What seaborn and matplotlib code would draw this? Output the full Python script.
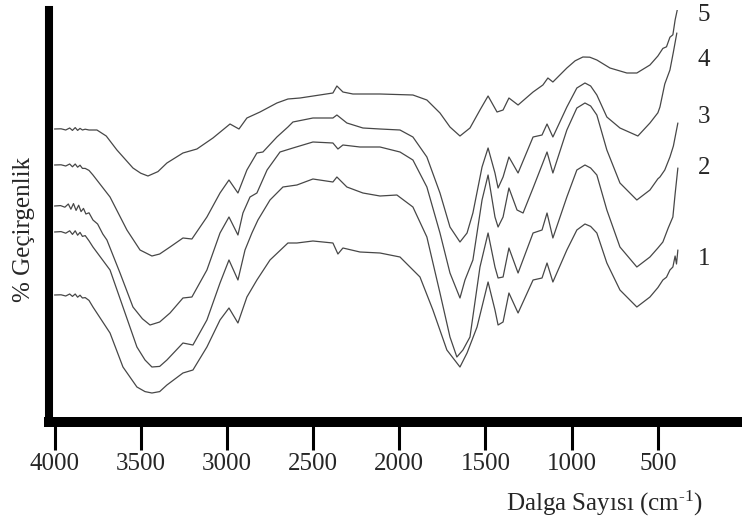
import matplotlib
matplotlib.use("Agg")
import matplotlib.pyplot as plt
import pandas as pd
import seaborn as sns

# FTIR spectra: wavenumber (cm-1) and relative transmittance for samples 1-5
wn_1 = [4000, 3962, 3935, 3912, 3896, 3880, 3866, 3852, 3838, 3822, 3800, 3777, 3678, 3603, 3522,
        3475, 3435, 3390, 3348, 3255, 3197, 3116, 3040, 2988, 2936, 2884, 2826, 2750, 2646, 2594,
        2501, 2385, 2356, 2327, 2228, 2112, 1996, 1880, 1805, 1724, 1648, 1607, 1549, 1485, 1445,
        1427, 1398, 1364, 1311, 1224, 1172, 1143, 1109, 1028, 970, 923, 890, 854, 796, 720, 622, 546,
        500, 471, 450, 430, 413, 400, 392, 384]
t_1 = [31.75, 31.8, 31.5, 32.0, 31.4, 32.0, 31.2, 31.7, 31.0, 31.1, 30.4, 28.75, 22.25, 13.75, 8.75,
       7.6, 7.25, 7.6, 9.25, 12.25, 13.0, 18.75, 25.5, 28.5, 24.75, 31.25, 35.5, 40.5, 44.75, 44.75,
       45.25, 44.75, 42.0, 43.5, 42.5, 42.25, 41.25, 36.25, 28.0, 18.0, 13.75, 17.25, 23.75, 35.0, 28.0,
       24.25, 25.0, 32.25, 27.25, 35.5, 36.0, 39.75, 35.0, 43.0, 48.0, 49.5, 48.9, 47.25, 39.75, 33.0,
       28.75, 31.25, 33.6, 35.5, 36.2, 38.0, 38.75, 41.5, 39.5, 43.0]

wn_2 = [4000, 3962, 3935, 3912, 3896, 3880, 3866, 3852, 3838, 3822, 3800, 3777, 3678, 3603, 3522,
        3475, 3435, 3390, 3348, 3255, 3197, 3116, 3040, 2988, 2936, 2895, 2855, 2820, 2750, 2675,
        2594, 2501, 2385, 2362, 2304, 2211, 2112, 2014, 1921, 1840, 1764, 1706, 1666, 1631, 1590,
        1532, 1485, 1445, 1427, 1398, 1364, 1311, 1224, 1172, 1143, 1109, 1028, 970, 923, 890, 854,
        796, 720, 622, 546, 500, 471, 440, 413, 400, 384]
t_2 = [47.5, 47.6, 47.2, 47.8, 46.9, 47.8, 46.7, 47.4, 46.4, 46.6, 45.3, 43.75, 38.0, 28.75, 18.75,
       15.5, 13.75, 13.9, 15.5, 19.75, 19.25, 25.5, 34.75, 40.5, 35.5, 43.0, 47.25, 50.5, 55.5, 58.75,
       59.25, 60.75, 60.0, 61.25, 58.75, 57.25, 56.5, 56.75, 53.75, 46.25, 32.25, 21.25, 16.25, 18.0,
       21.25, 38.75, 47.25, 38.75, 36.0, 36.25, 43.5, 37.25, 47.25, 48.0, 52.25, 46.0, 56.25, 63.0,
       64.25, 63.5, 61.75, 53.0, 43.75, 38.75, 41.25, 43.5, 45.0, 48.5, 51.25, 57.0, 63.5]

wn_3 = [4000, 3965, 3940, 3920, 3905, 3890, 3875, 3860, 3846, 3832, 3818, 3800, 3777, 3750, 3720,
        3696, 3620, 3545, 3490, 3446, 3390, 3330, 3255, 3203, 3116, 3040, 2988, 2936, 2907, 2866,
        2826, 2767, 2692, 2617, 2501, 2385, 2356, 2327, 2228, 2112, 1996, 1921, 1840, 1764, 1706,
        1648, 1619, 1573, 1520, 1485, 1445, 1427, 1398, 1364, 1317, 1282, 1224, 1172, 1143, 1109,
        1028, 970, 923, 890, 854, 796, 720, 622, 546, 500, 488, 460, 430, 410, 384]
t_3 = [54.0, 54.1, 53.7, 54.5, 53.2, 54.6, 52.9, 54.2, 52.6, 53.4, 52.0, 52.3, 50.5, 49.5, 47.0,
       45.5, 37.25, 28.75, 25.8, 24.25, 25.0, 27.25, 31.0, 31.25, 38.0, 47.25, 51.25, 46.75, 52.25,
       56.25, 57.25, 63.0, 67.5, 68.5, 70.0, 69.75, 68.25, 69.25, 68.75, 68.75, 67.5, 65.5, 58.75,
       47.25, 37.25, 31.0, 35.5, 40.5, 55.5, 61.75, 51.25, 48.75, 51.25, 58.5, 53.0, 52.25, 58.5,
       64.25, 67.5, 62.25, 73.0, 78.5, 79.75, 79.0, 76.75, 68.0, 59.75, 55.5, 58.0, 60.8, 61.25, 63.0,
       66.25, 69.0, 74.75]

wn_4 = [4000, 3962, 3935, 3912, 3896, 3880, 3866, 3852, 3838, 3822, 3800, 3777, 3678, 3580, 3504,
        3435, 3390, 3330, 3255, 3203, 3116, 3040, 2988, 2936, 2884, 2826, 2791, 2710, 2646, 2617,
        2501, 2385, 2362, 2304, 2211, 2112, 1996, 1921, 1840, 1764, 1706, 1648, 1607, 1573, 1520,
        1485, 1445, 1427, 1398, 1364, 1311, 1224, 1172, 1143, 1109, 1028, 970, 923, 890, 854, 796,
        720, 616, 546, 500, 488, 460, 430, 410, 390]
t_4 = [64.25, 64.3, 64.0, 64.5, 63.8, 64.5, 63.7, 64.2, 63.4, 63.4, 62.9, 61.75, 56.25, 48.0, 43.0,
       41.5, 42.0, 43.75, 46.0, 45.75, 51.25, 57.25, 60.5, 57.25, 63.0, 67.25, 67.5, 71.25, 73.75,
       75.0, 76.0, 76.0, 76.75, 74.75, 73.5, 73.25, 73.0, 71.25, 66.25, 57.25, 48.75, 45.0, 47.25,
       52.25, 63.75, 68.5, 62.25, 58.5, 61.25, 66.25, 62.25, 71.25, 71.75, 74.5, 71.25, 78.75, 83.5,
       84.75, 84.0, 81.75, 76.25, 73.5, 71.5, 74.75, 77.3, 78.75, 84.5, 88.0, 92.5, 97.25]

wn_5 = [4000, 3962, 3935, 3912, 3896, 3880, 3866, 3852, 3838, 3822, 3800, 3754, 3700, 3638, 3545,
        3500, 3458, 3400, 3348, 3255, 3174, 3081, 2982, 2930, 2884, 2808, 2710, 2646, 2576, 2385,
        2362, 2327, 2269, 2112, 1921, 1840, 1764, 1706, 1648, 1590, 1532, 1485, 1433, 1398, 1364,
        1311, 1224, 1167, 1138, 1109, 1028, 980, 935, 895, 854, 778, 680, 622, 546, 500, 471, 450,
        430, 413, 400, 384]
t_5 = [73.25, 73.3, 73.0, 73.5, 72.9, 73.6, 72.9, 73.4, 73.0, 73.2, 73.0, 73.0, 71.5, 68.0, 63.5,
       62.2, 61.5, 62.6, 64.75, 67.25, 68.25, 71.0, 74.5, 73.25, 76.0, 77.5, 79.75, 80.75, 81.0, 82.25,
       84.0, 82.5, 82.0, 82.0, 81.75, 80.5, 77.25, 73.75, 71.5, 73.5, 78.0, 81.5, 77.5, 78.0, 81.0,
       79.25, 82.5, 84.25, 86.0, 85.0, 88.5, 90.3, 91.25, 91.2, 90.5, 88.5, 87.25, 87.25, 89.25, 91.5,
       93.4, 93.8, 96.2, 96.8, 100.5, 103.75]

sample_names = ["1", "2", "3", "4", "5"]
label_wn = 233
label_t = [40.75, 63.5, 76.25, 90.5, 101.75]
x_ticks = [4000, 3500, 3000, 2500, 2000, 1500, 1000, 500]

sns.set_style("white")
plt.rcParams["font.family"] = ["Liberation Serif", "DejaVu Serif"]
plt.rcParams["mathtext.fontset"] = "custom"
plt.rcParams["mathtext.rm"] = "Liberation Serif"
plt.rcParams["mathtext.it"] = "Liberation Serif:italic"

spectra = pd.concat([
    pd.DataFrame({"wavenumber": w, "transmittance": t, "sample": s})
    for s, w, t in zip(sample_names,
                       [wn_1, wn_2, wn_3, wn_4, wn_5],
                       [t_1, t_2, t_3, t_4, t_5])
], ignore_index=True)

fig = plt.figure(figsize=(7.42, 5.25), dpi=100)
ax = fig.add_axes([49 / 742, 103 / 525, 1 - 49 / 742, 412 / 525])

sns.lineplot(data=spectra, x="wavenumber", y="transmittance", units="sample",
             estimator=None, color="#474747", linewidth=0.9, ax=ax, legend=False)

ax.set_xlim(4032, 12)
ax.set_ylim(0, 103)

for side in ("top", "right"):
    ax.spines[side].set_visible(False)
ax.spines["left"].set_linewidth(5.8)
ax.spines["bottom"].set_linewidth(7.2)
for side in ("left", "bottom"):
    ax.spines[side].set_color("black")

ax.set_xticks(x_ticks)
ax.set_xticklabels([str(v) for v in x_ticks])
ax.set_yticks([])
ax.tick_params(axis="x", direction="out", length=20, width=2.2, color="black",
               labelsize=18, pad=2, bottom=True)
ax.set_xlabel("")
ax.set_ylabel("")

for name, ty in zip(sample_names, label_t):
    ax.text(label_wn, ty, name, fontsize=18, ha="center", va="center", clip_on=False)

fig.text(703 / 742, 1 - 503 / 525, "Dalga Sayısı (cm$^{\\text{-1}}$)",
         fontsize=18, ha="right", va="center")
fig.text(24 / 742, 1 - 229 / 525, "% Geçirgenlik", fontsize=18, rotation=90,
         ha="center", va="center")

fig.savefig("out.png", dpi=100, facecolor="white")
